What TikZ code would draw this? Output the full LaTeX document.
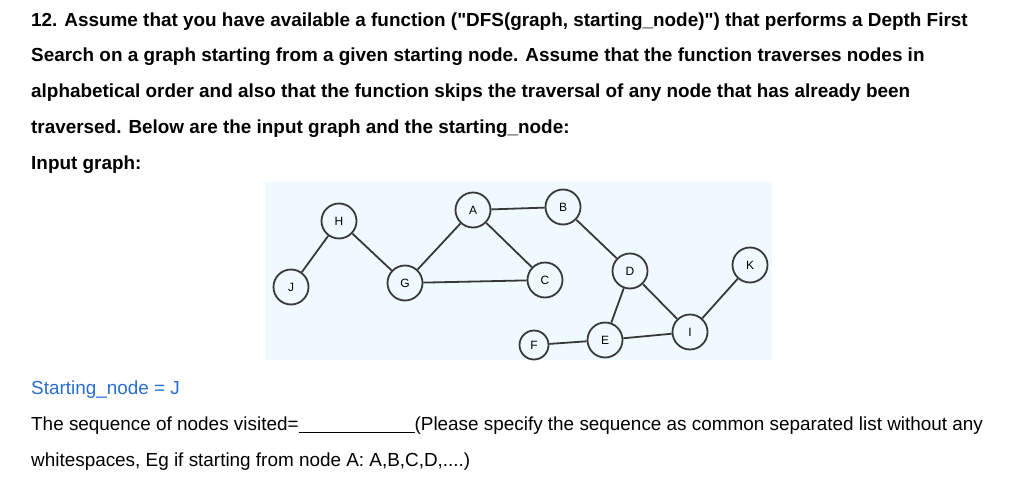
\documentclass[tikz,border=0pt]{standalone}
\usepackage{fontspec}
\setmainfont{Liberation Sans}[Ligatures=TeXOff]
\begin{document}
\begin{tikzpicture}[x=1pt,y=-1pt,
  vtx/.style={circle,draw=black!78,line width=1.8pt,minimum size=35pt,inner sep=0pt,font=\fontsize{12}{14}\selectfont,fill=none},
  edge/.style={draw=black!78,line width=1.8pt},
  txt/.style={anchor=west,inner sep=0pt,font=\fontsize{18.9}{22}\selectfont},
  btxt/.style={txt,font=\fontsize{18.9}{22}\selectfont\bfseries}]
\useasboundingbox (0,0) rectangle (1024,487);
\fill[white] (0,0) rectangle (1024,487);
\fill[cyan!6!white] (265,182) rectangle (772,360);
\node[btxt] (l1) at (31,22) {12. Assume that you have available a function ("DFS(graph, starting\_node)") that performs a Depth First};
\node[btxt] (l2) at (31,57) {Search on a graph starting from a given starting node. Assume that the function traverses nodes in};
\node[btxt] (l3) at (31,93) {alphabetical order and also that the function skips the traversal of any node that has already been};
\node[btxt] (l4) at (31,129) {traversed. Below are the input graph and the starting\_node:};
\node[btxt] (l5) at (31,165) {Input graph:};
\node[txt,text={rgb,255:red,40;green,110;blue,210}] (s) at (31,390) {Starting\_node = J};
\node[txt] (q1) at (31,426) {The sequence of nodes visited=\rule[-2pt]{116pt}{0.6pt}(Please specify the sequence as common separated list without any};
\node[txt] (q2) at (31,462) {whitespaces, Eg if starting from node A: A,B,C,D,....)};
\node[vtx] (J) at (291,287) {J};
\node[vtx] (H) at (339,221) {H};
\node[vtx] (G) at (405,283) {G};
\node[vtx] (A) at (473,210) {A};
\node[vtx] (B) at (563,207) {B};
\node[vtx] (C) at (545,280) {C};
\node[vtx] (D) at (630,271) {D};
\node[vtx] (K) at (750,265) {K};
\node[vtx] (I) at (690,332) {I};
\node[vtx] (E) at (605,340) {E};
\node[vtx,minimum size=29pt] (F) at (534,345) {F};
\draw[edge] (J)--(H) (H)--(G) (G)--(A) (G)--(C) (A)--(C) (A)--(B) (B)--(D) (D)--(E) (D)--(I) (E)--(F) (E)--(I) (I)--(K);
\end{tikzpicture}
\end{document}
